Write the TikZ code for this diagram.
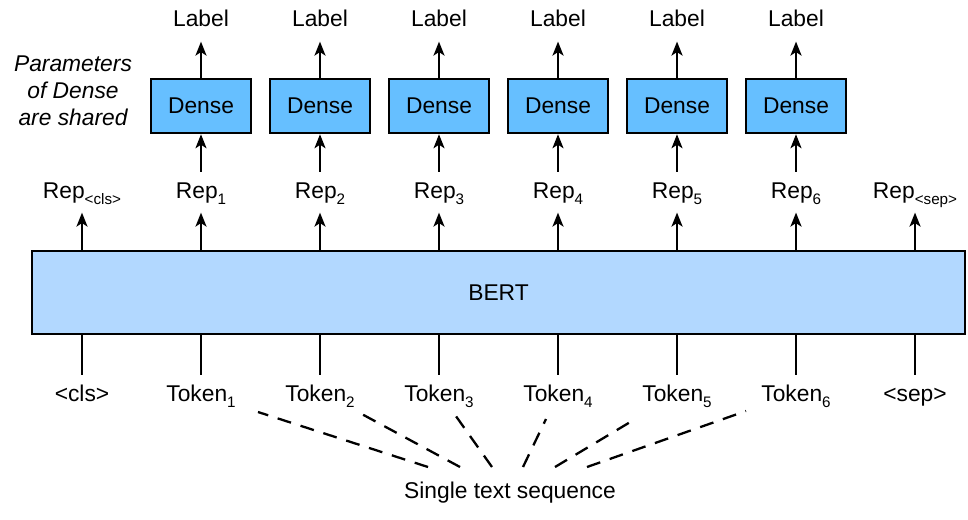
\documentclass[tikz,border=0pt]{standalone}
\usepackage{fontspec}
\setmainfont{Liberation Sans}
\usetikzlibrary{arrows.meta}
\definecolor{denseblue}{RGB}{102,191,255}
\definecolor{bertblue}{RGB}{178,216,255}
\newcommand{\subtxt}[1]{\raisebox{-0.5ex}{\fontsize{7.6}{8}\selectfont #1}}
\begin{document}
\begin{tikzpicture}[x=0.5pt,y=-0.5pt,
  font=\fontsize{11.4}{13.5}\selectfont,
  line width=1.15pt,
  arr/.style={-{Stealth[length=7pt,width=5.5pt,inset=1.8pt]}},
  dashline/.style={line width=1.15pt,dash pattern=on 7pt off 5pt},
  txt/.style={inner sep=0pt,text height=8.2pt,text depth=2.3pt,outer sep=5pt,anchor=base},
  densebox/.style={draw,line width=1.25pt,fill=denseblue,minimum width=50pt,minimum height=27pt,inner sep=0pt},
  bertbox/.style={draw,line width=1.25pt,fill=bertblue,minimum width=466.5pt,minimum height=41.5pt,inner sep=0pt}]
\useasboundingbox (0,0) rectangle (968,519);
\fill[white] (0,0) rectangle (968,519);

% encoder
\node[bertbox] (bert) at (498.5,292.5) {BERT};

% shared note
\node[inner sep=0pt,align=center,font=\fontsize{11.4}{13.5}\selectfont\itshape] (note) at (73,91)
  {Parameters\\of Dense\\are shared};

% special token representations
\node[txt] (rcls) at (82,198) {Rep\subtxt{<cls>}};
\node[txt] (rsep) at (915,198) {Rep\subtxt{<sep>}};
\node[txt] (kcls) at (82,401) {<cls>};
\node[txt] (ksep) at (915,401) {<sep>};
\draw[arr] (bert.north -| rcls) -- (rcls.south);
\draw[arr] (bert.north -| rsep) -- (rsep.south);
\draw (kcls.north) -- (kcls.north |- bert.south);
\draw (ksep.north) -- (ksep.north |- bert.south);

% per-token columns
\foreach \i/\x in {1/201,2/320,3/439,4/558,5/677,6/796}{
  \node[txt] (lab\i) at (\x,27) {Label};
  \node[densebox] (d\i) at (\x,106) {Dense};
  \node[txt] (r\i) at (\x,198) {Rep\subtxt{\i}};
  \node[txt] (k\i) at (\x,401) {Token\subtxt{\i}};
  \draw[arr] (d\i.north) -- (lab\i.south);
  \draw[arr] (r\i.north) -- (d\i.south);
  \draw[arr] (bert.north -| r\i) -- (r\i.south);
  \draw (k\i.north) -- (k\i.north |- bert.south);
}

% input sequence
\node[txt] (seq) at (510,498) {Single text sequence};
\coordinate (t1) at (258,412); \coordinate (s1) at (428,467);
\coordinate (t2) at (358,412); \coordinate (s2) at (460,467);
\coordinate (t3) at (453,412); \coordinate (s3) at (492,467);
\coordinate (t4) at (546,419); \coordinate (s4) at (523,467);
\coordinate (t5) at (637,418); \coordinate (s5) at (555,467);
\coordinate (t6) at (746,411); \coordinate (s6) at (587,467);
\foreach \i in {1,...,6}{
  \draw[dashline] (s\i) -- (t\i);
}
\end{tikzpicture}
\end{document}
